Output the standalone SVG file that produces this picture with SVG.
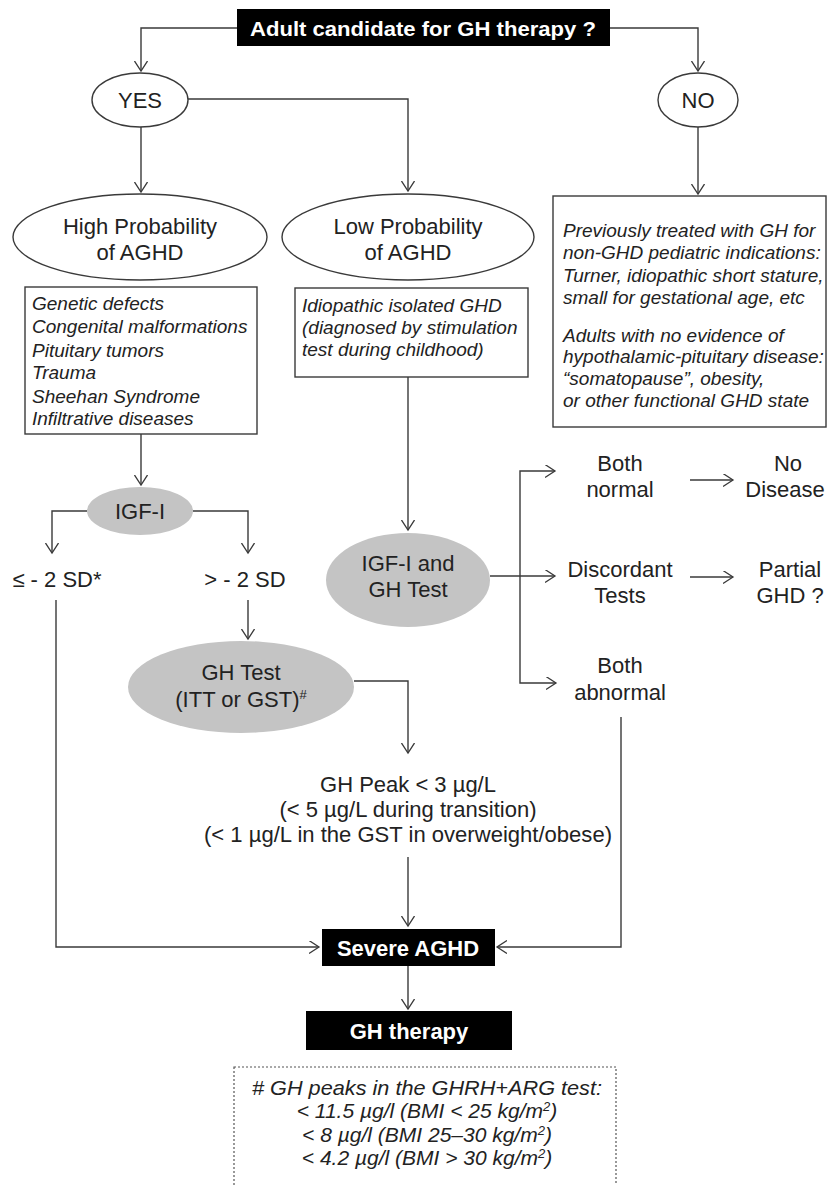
<svg xmlns="http://www.w3.org/2000/svg" width="827" height="1185" viewBox="0 0 827 1185">
<defs>
<marker id="arr" markerUnits="userSpaceOnUse" markerWidth="12" markerHeight="14" refX="10" refY="6.5" orient="auto">
<path d="M0,0 L10,6.5 L0,13" fill="none" stroke="#3a3a3a" stroke-width="1.3"/>
</marker>
<style>
.ln{fill:none;stroke:#3a3a3a;stroke-width:1.4;marker-end:url(#arr)}
.t{font-family:"Liberation Sans",Arial,sans-serif;font-size:22px;fill:#222;text-anchor:middle}
.it{font-family:"Liberation Sans",Arial,sans-serif;font-size:19px;font-style:italic;fill:#222}
.fn{font-family:"Liberation Sans",Arial,sans-serif;font-size:21px;font-style:italic;fill:#222;text-anchor:middle}
.wb{font-family:"Liberation Sans",Arial,sans-serif;font-weight:bold;fill:#fff;text-anchor:middle}
.blk{fill:#000}
.oe{fill:#fff;stroke:#3a3a3a;stroke-width:1.4}
.ge{fill:#c4c4c4;stroke:none}
.bx{fill:#fff;stroke:#3a3a3a;stroke-width:1.4}
</style>
</defs>
<rect width="827" height="1185" fill="#fff"/>

<g id="connectors">
<path class="ln" d="M237,28 H141 V71"/>
<path class="ln" d="M610,28 H698 V71"/>
<path class="ln" d="M141,127 V192"/>
<path class="ln" d="M188,99 H408 V191"/>
<path class="ln" d="M698,127 V194"/>
<path class="ln" d="M141,434 V485"/>
<path class="ln" d="M87,511 H52 V553"/>
<path class="ln" d="M193,511 H248 V553"/>
<path class="ln" d="M248,600 V639"/>
<path class="ln" d="M56,600 V947 H319"/>
<path class="ln" d="M354,681 H408 V753"/>
<path class="ln" d="M408,857 V926"/>
<path class="ln" d="M408,377 V530"/>
<path class="ln" d="M490,576 H555"/>
<path class="ln" d="M520,576 V471 H555"/>
<path class="ln" d="M520,576 V683 H556"/>
<path class="ln" d="M690,480 H733"/>
<path class="ln" d="M690,577 H733"/>
<path class="ln" d="M621,717 V947 H497"/>
<path class="ln" d="M408,966 V1009"/>
</g>

<g id="n-top">
<rect class="blk" x="237" y="9" width="373" height="37"/>
<text class="wb" x="423" y="36" font-size="21" textLength="346" lengthAdjust="spacingAndGlyphs">Adult candidate for GH therapy ?</text>
</g>

<g id="n-yes">
<ellipse class="oe" cx="140" cy="100" rx="48" ry="27"/>
<text class="t" x="140" y="108">YES</text>
</g>

<g id="n-no">
<ellipse class="oe" cx="698" cy="100" rx="40" ry="27"/>
<text class="t" x="698" y="108">NO</text>
</g>

<g id="n-high">
<ellipse class="oe" cx="140" cy="237" rx="127" ry="43"/>
<text class="t" x="140" y="234" font-size="23">High Probability</text>
<text class="t" x="140" y="260" font-size="23">of AGHD</text>
</g>

<g id="n-low">
<ellipse class="oe" cx="408" cy="237" rx="126" ry="43"/>
<text class="t" x="408" y="234" font-size="23">Low Probability</text>
<text class="t" x="408" y="260" font-size="23">of AGHD</text>
</g>

<g id="n-highbox">
<rect class="bx" x="25" y="287" width="232" height="147"/>
<text class="it" x="32" y="310">Genetic defects</text>
<text class="it" x="32" y="333">Congenital malformations</text>
<text class="it" x="32" y="357">Pituitary tumors</text>
<text class="it" x="32" y="379">Trauma</text>
<text class="it" x="32" y="403">Sheehan Syndrome</text>
<text class="it" x="32" y="425">Infiltrative diseases</text>
</g>

<g id="n-lowbox">
<rect class="bx" x="295" y="288" width="233" height="89"/>
<text class="it" x="302" y="312">Idiopathic isolated GHD</text>
<text class="it" x="302" y="334">(diagnosed by stimulation</text>
<text class="it" x="302" y="356">test during childhood)</text>
</g>

<g id="n-nobox">
<rect class="bx" x="553" y="196" width="273" height="231"/>
<text class="it" x="563" y="237">Previously treated with  GH for</text>
<text class="it" x="563" y="259">non-GHD pediatric indications:</text>
<text class="it" x="563" y="282">Turner, idiopathic short stature,</text>
<text class="it" x="563" y="304">small for gestational age, etc</text>
<text class="it" x="563" y="342">Adults with  no evidence of</text>
<text class="it" x="563" y="363">hypothalamic-pituitary disease:</text>
<text class="it" x="563" y="385">“somatopause”, obesity,</text>
<text class="it" x="563" y="407">or other functional GHD state</text>
</g>

<g id="n-igf">
<ellipse class="ge" cx="140" cy="511" rx="53" ry="24"/>
<text class="t" x="140" y="519">IGF-I</text>
</g>

<g id="n-le2sd">
<text class="t" x="57" y="587">≤ - 2 SD*</text>
</g>

<g id="n-gt2sd">
<text class="t" x="245" y="587">&gt; - 2 SD</text>
</g>

<g id="n-ghtest">
<ellipse class="ge" cx="241" cy="687" rx="113" ry="46"/>
<text class="t" x="241" y="680">GH Test</text>
<text class="t" x="241" y="707">(ITT or GST)<tspan font-size="13" dy="-8">#</tspan></text>
</g>

<g id="n-igfgh">
<ellipse class="ge" cx="408" cy="580" rx="82" ry="47"/>
<text class="t" x="408" y="571">IGF-I and</text>
<text class="t" x="408" y="597">GH Test</text>
</g>

<g id="n-bothnormal">
<text class="t" x="620" y="471">Both</text>
<text class="t" x="620" y="497">normal</text>
</g>

<g id="n-nodisease">
<text class="t" x="788" y="471">No</text>
<text class="t" x="785" y="497" font-size="21">Disease</text>
</g>

<g id="n-discordant">
<text class="t" x="620" y="577">Discordant</text>
<text class="t" x="620" y="603">Tests</text>
</g>

<g id="n-partial">
<text class="t" x="790" y="577">Partial</text>
<text class="t" x="790" y="603">GHD ?</text>
</g>

<g id="n-bothabnormal">
<text class="t" x="620" y="673">Both</text>
<text class="t" x="620" y="700">abnormal</text>
</g>

<g id="n-ghpeak">
<text class="t" x="408" y="792">GH Peak &lt; 3 µg/L</text>
<text class="t" x="408" y="817">(&lt; 5 µg/L during transition)</text>
<text class="t" x="408" y="842" textLength="408" lengthAdjust="spacingAndGlyphs">(&lt; 1 µg/L in the GST in overweight/obese)</text>
</g>

<g id="n-severe">
<rect class="blk" x="322" y="929" width="173" height="37"/>
<text class="wb" x="408" y="956" font-size="22">Severe AGHD</text>
</g>

<g id="n-therapy">
<rect class="blk" x="306" y="1011" width="206" height="39"/>
<text class="wb" x="409" y="1039" font-size="22">GH therapy</text>
</g>

<g id="n-footnote">
<rect x="234" y="1067" width="382" height="125" fill="#fff" stroke="#555" stroke-width="1.2" stroke-dasharray="2,2"/>
<text class="fn" x="427" y="1095" textLength="350" lengthAdjust="spacingAndGlyphs"># GH peaks in the GHRH+ARG test:</text>
<text class="fn" x="427" y="1118">&lt; 11.5 µg/l (BMI &lt; 25 kg/m<tspan font-size="13" dy="-7">2</tspan><tspan dy="7">)</tspan></text>
<text class="fn" x="427" y="1142">&lt; 8 µg/l (BMI 25–30 kg/m<tspan font-size="13" dy="-7">2</tspan><tspan dy="7">)</tspan></text>
<text class="fn" x="427" y="1165">&lt; 4.2 µg/l (BMI &gt; 30 kg/m<tspan font-size="13" dy="-7">2</tspan><tspan dy="7">)</tspan></text>
</g>
</svg>
